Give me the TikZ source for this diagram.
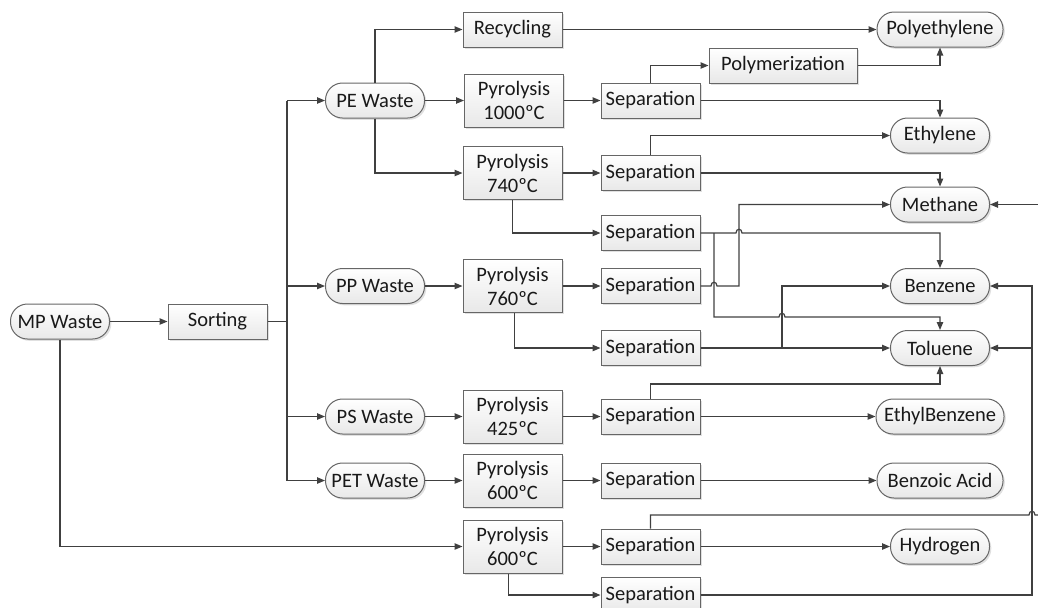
\documentclass[tikz,border=0pt]{standalone}
\usepackage{fontspec}
\setmainfont{Carlito}
\usetikzlibrary{arrows.meta,shadows,calc}
\begin{document}
\begin{tikzpicture}[x=0.5pt,y=-0.5pt,
  font=\fontsize{10.25}{12}\selectfont,
  every node/.style={inner sep=0pt, align=center, text=black!90},
  box/.style={draw=black!60, line width=0.5pt, top color=white, bottom color=black!9,
    minimum width=49.5pt, minimum height=17.5pt,
    drop shadow={shadow xshift=0.9pt, shadow yshift=-0.9pt, opacity=0.35, fill=black!35}},
  tall/.style={box, minimum height=26.5pt},
  term/.style={box, rounded corners=8.5pt},
  line/.style={draw=black!75, line width=0.6pt},
  arr/.style={line, -{Triangle[length=4pt,width=3.2pt]}},
  jumpover/.style={insert path={-- ($(#1)+(-3,0)$) .. controls ($(#1)+(-3,-5)$) and ($(#1)+(3,-5)$) .. ($(#1)+(3,0)$)}}
]
\useasboundingbox (0,0) rectangle (1038,607);
% sources
\node[term] (mp) at (60,321.5) {MP Waste};
\node[box] (sort) at (217.5,321.5) {Sorting};
\node[term] (pe) at (375,100.5) {PE Waste};
\node[term] (pp) at (375,286) {PP Waste};
\node[term] (ps) at (375,416.5) {PS Waste};
\node[term] (pet) at (375,480.5) {PET Waste};
% processes
\node[box] (rec) at (512.5,29.5) {Recycling};
\node[tall] (py1) at (514,100.5) {Pyrolysis\\1000ºC};
\node[tall] (py2) at (512.5,173) {Pyrolysis\\740ºC};
\node[tall] (py3) at (512.5,286) {Pyrolysis\\760ºC};
\node[tall] (py4) at (512.5,416.5) {Pyrolysis\\425ºC};
\node[tall] (py5) at (512.5,480.5) {Pyrolysis\\600ºC};
\node[tall] (py6) at (512.5,546.5) {Pyrolysis\\600ºC};
\node[box] (s1) at (650.5,100.5) {Separation};
\node[box] (s2) at (650.5,173) {Separation};
\node[box] (s3) at (650.5,233) {Separation};
\node[box] (s4) at (650.5,286) {Separation};
\node[box] (s5) at (650.5,348) {Separation};
\node[box] (s6) at (650.5,416.5) {Separation};
\node[box] (s7) at (650.5,480.5) {Separation};
\node[box] (s8) at (650.5,546.5) {Separation};
\node[box] (s9) at (650.5,595) {Separation};
\node[box, minimum width=74pt] (poly) at (783,65.5) {Polymerization};
% products
\node[term, minimum width=63pt] (pye) at (940,29.5) {Polyethylene};
\node[term] (eth) at (940,135.5) {Ethylene};
\node[term] (meth) at (940,204.5) {Methane};
\node[term] (benz) at (940,286) {Benzene};
\node[term] (tol) at (940,348) {Toluene};
\node[term, minimum width=64pt] (eb) at (940,416.5) {EthylBenzene};
\node[term, minimum width=63pt] (ba) at (940,480.5) {Benzoic Acid};
\node[term] (hyd) at (940,546.5) {Hydrogen};
% helper coordinates
\coordinate (bus) at (287,0);
\coordinate (xa) at (714,0);
\coordinate (xb) at (739,0);
\coordinate (xc) at (782,0);
\coordinate (xd) at (1032,0);
\coordinate (edge) at (1038,0);
\coordinate (ya) at (0,317);
\coordinate (yb) at (0,384);
\coordinate (yc) at (0,515);
\coordinate (h1) at (xb |- s3.east);
\coordinate (h2) at (xa |- s4.east);
\coordinate (h3) at (xc |- ya);
\coordinate (h4) at (xd |- yc);
% connectors
\draw[arr] (mp.east) -- (sort.west);
\draw[line] (sort.east) -- (bus |- sort.east);
\draw[line] (bus |- pe) -- (bus |- pet);
\foreach \n in {pe,pp,ps,pet} \draw[arr] (bus |- \n) -- (\n.west);
\draw[arr] (pe.north) |- (rec.west);
\draw[arr] (pe.east) -- (py1.west);
\draw[arr] (pe.south) |- (py2.west);
\draw[arr] (rec.east) -- (pye.west);
\draw[arr] (py1.east) -- (s1.west);
\draw[arr] (s1.north) |- (poly.west);
\draw[arr] (poly.east) -| (pye.south);
\draw[arr] (s1.east) -| (eth.north);
\draw[arr] (py2.east) -- (s2.west);
\draw[arr] (s2.north) |- (eth.west);
\draw[arr] (s2.east) -| (meth.north);
\draw[arr] (py2.south) |- (s3.west);
\draw[arr] (s3.east) [jumpover=h1] -| (benz.north);
\draw[arr] (xa |- s3.east) -- (xa |- ya) [jumpover=h3] -| (tol.north);
\draw[arr] (pp.east) -- (py3.west);
\draw[arr] (py3.east) -- (s4.west);
\draw[arr] (s4.east) [jumpover=h2] -- (xb |- s4.east) |- (meth.west);
\draw[arr] ([xshift=1pt]py3.south) |- (s5.west);
\draw[arr] (s5.east) -- (tol.west);
\draw[arr] (xc |- s5.east) |- (benz.west);
\draw[arr] (ps.east) -- (py4.west);
\draw[arr] (py4.east) -- (s6.west);
\draw[arr] (s6.north) -- (s6.north |- yb) -| (tol.south);
\draw[arr] (s6.east) -- (eb.west);
\draw[arr] (pet.east) -- (py5.west);
\draw[arr] (py5.east) -- (s7.west);
\draw[arr] (s7.east) -- (ba.west);
\draw[arr] (mp.south) |- (py6.west);
\draw[arr] (py6.east) -- (s8.west);
\draw[arr] (s8.east) -- (hyd.west);
\draw[line] (s8.north) -- (s8.north |- yc) [jumpover=h4] -- (edge |- yc);
\draw[arr] ([xshift=-2pt]py6.south) |- (s9.west);
\draw[arr] (s9.east) -- (xd |- s9.east) -- (xd |- benz.east) -- (benz.east);
\draw[arr] (xd |- tol.east) -- (tol.east);
\draw[arr] (edge |- meth.east) -- (meth.east);
\end{tikzpicture}
\end{document}
